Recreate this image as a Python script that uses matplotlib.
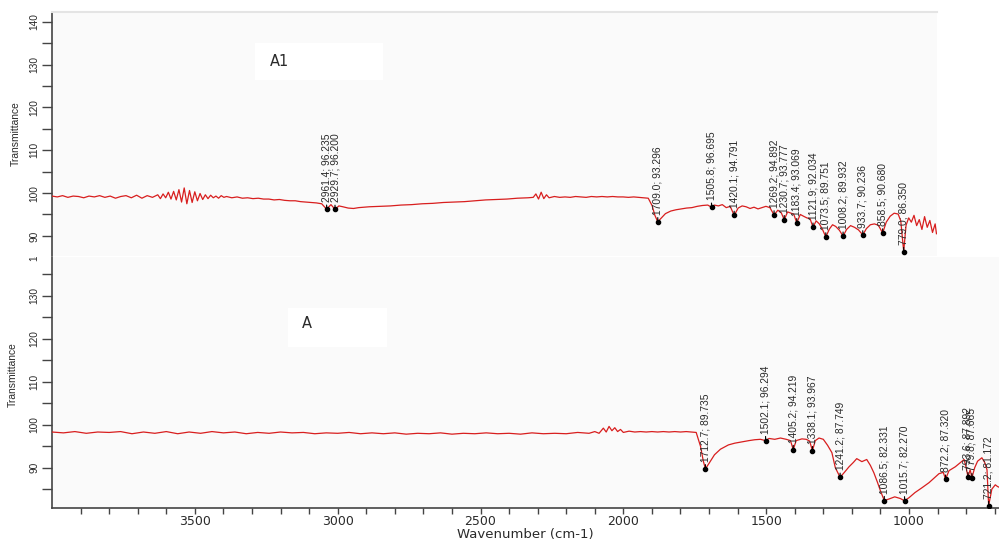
import matplotlib
matplotlib.use("Agg")
import matplotlib.pyplot as plt
from matplotlib.patches import Rectangle
from matplotlib.ticker import MultipleLocator, FixedLocator, FuncFormatter

# ---------------- data: spectrum A1 (top) ----------------
a1_wn = [4000, 3980, 3960, 3940, 3920, 3900, 3880, 3860, 3840, 3820,
         3800, 3780, 3760, 3740, 3720, 3700, 3680, 3660, 3640, 3620,
         3600, 3590, 3580, 3570, 3560, 3550, 3540, 3530, 3520, 3510,
         3500, 3490, 3480, 3470, 3460, 3450, 3440, 3430, 3420, 3410,
         3400, 3390, 3380, 3370, 3360, 3350, 3340, 3320, 3300, 3280,
         3260, 3240, 3220, 3200, 3180, 3160, 3140, 3120, 3100, 3080,
         3060, 3040, 3020, 3000, 2980, 2961.4, 2945, 2929.7, 2915, 2900,
         2880, 2860, 2840, 2820, 2800, 2760, 2720, 2680, 2640, 2600,
         2560, 2520, 2480, 2440, 2400, 2360, 2320, 2280, 2240, 2200,
         2180, 2170, 2160, 2150, 2140, 2130, 2120, 2100, 2080, 2060,
         2040, 2020, 2000, 1980, 1960, 1940, 1920, 1900, 1880, 1860,
         1840, 1820, 1800, 1780, 1760, 1745, 1730, 1720, 1709.0, 1695,
         1680, 1660, 1640, 1620, 1600, 1580, 1560, 1540, 1520, 1505.8,
         1495, 1480, 1465, 1450, 1435, 1420.1, 1405, 1390, 1375, 1360,
         1345, 1330, 1315, 1300, 1285, 1269.2, 1255, 1242, 1230.7, 1218,
         1205, 1195, 1183.4, 1170, 1158, 1145, 1133, 1121.9, 1110, 1098,
         1086, 1073.5, 1060, 1048, 1036, 1022, 1008.2, 995, 980, 965,
         950, 933.7, 920, 905, 890, 875, 858.5, 845, 830, 815,
         800, 790, 779.0, 770, 760, 750, 740, 730, 720, 710,
         700, 690, 680, 670, 660, 655]
a1_tr = [99.3, 99.1, 99.4, 99.0, 99.3, 99.2, 98.9, 99.3, 99.1, 99.4,
         99.0, 99.3, 98.8, 99.2, 99.4, 98.9, 99.5, 98.8, 99.4, 99.0,
         99.6, 98.7, 99.8, 98.9, 100.2, 98.6, 100.4, 98.4, 100.8, 97.9,
         101.2, 97.5, 100.6, 97.8, 100.3, 98.2, 99.9, 98.5, 99.6, 98.7,
         99.5, 98.9, 99.3, 98.8, 99.4, 99.0, 99.2, 98.9, 99.1, 98.8,
         98.9, 98.7, 98.8, 98.6, 98.6, 98.4, 98.5, 98.3, 98.2, 98.2,
         98.0, 97.9, 97.8, 97.7, 97.5, 96.235, 97.3, 96.200, 97.0, 96.8,
         96.5, 96.4, 96.6, 96.7, 96.8, 96.9, 97.0, 97.2, 97.3, 97.5,
         97.6, 97.8, 97.9, 98.0, 98.2, 98.4, 98.5, 98.6, 98.8, 98.9,
         99.0, 99.8, 98.6, 100.2, 98.7, 99.6, 98.9, 99.2, 99.0, 99.1,
         99.0, 99.2, 99.1, 99.0, 99.2, 99.1, 99.2, 99.1, 99.2, 99.1,
         99.1, 99.0, 99.1, 99.0, 98.9, 98.8, 97.0, 94.8, 93.296, 94.2,
         95.2, 95.8, 96.1, 96.3, 96.5, 96.6, 96.9, 97.1, 97.2, 96.695,
         97.2, 97.0, 97.3, 96.6, 96.9, 94.791, 96.5, 97.0, 96.8, 96.4,
         96.7, 96.3, 96.6, 96.9, 96.6, 94.892, 96.0, 95.4, 93.777, 95.6,
         95.3, 95.1, 93.069, 95.0, 94.6, 94.2, 94.0, 92.034, 93.5, 92.8,
         91.5, 89.751, 91.6, 92.6, 92.2, 91.3, 89.932, 91.5, 92.4, 92.0,
         91.4, 90.236, 91.7, 92.6, 92.8, 92.5, 90.680, 93.2, 94.6, 95.3,
         95.1, 93.5, 86.350, 92.5, 94.2, 93.2, 94.8, 92.4, 93.8, 91.5,
         94.5, 92.0, 93.6, 90.8, 92.8, 90.5]

a1_peak_wn = [2961.4, 2929.7, 1709.0, 1505.8, 1420.1, 1269.2, 1230.7,
              1183.4, 1121.9, 1073.5, 1008.2, 933.7, 858.5, 779.0]
a1_peak_tr = [96.235, 96.200, 93.296, 96.695, 94.791, 94.892, 93.777,
              93.069, 92.034, 89.751, 89.932, 90.236, 90.680, 86.350]

# ---------------- data: spectrum A (bottom) ----------------
a_wn = [4000, 3960, 3920, 3880, 3840, 3800, 3760, 3720, 3680, 3640,
        3600, 3560, 3520, 3480, 3440, 3400, 3360, 3320, 3280, 3240,
        3200, 3160, 3120, 3080, 3040, 3000, 2960, 2920, 2880, 2840,
        2800, 2760, 2720, 2680, 2640, 2600, 2560, 2520, 2480, 2440,
        2400, 2360, 2320, 2280, 2240, 2200, 2160, 2120, 2100, 2085,
        2070, 2060, 2050, 2040, 2030, 2020, 2010, 2000, 1980, 1960,
        1940, 1920, 1900, 1880, 1860, 1840, 1820, 1800, 1780, 1760,
        1745, 1730, 1720, 1712.7, 1700, 1681, 1660, 1632, 1610, 1586,
        1560, 1540, 1520, 1502.1, 1490, 1470, 1450, 1430, 1415, 1405.2,
        1395, 1375, 1360, 1348, 1338.1, 1328, 1315, 1300, 1285, 1270,
        1258, 1241.2, 1225, 1210, 1195, 1183, 1165, 1148, 1135, 1123,
        1110, 1100, 1086.5, 1070, 1050, 1030, 1015.7, 1000, 979, 955,
        930, 910, 895, 880, 872.2, 860, 838, 820, 807, 800,
        793.6, 786, 779.8, 770, 760, 745, 735, 727, 721.2, 710,
        698, 690, 680]
a_tr = [98.3, 98.1, 98.4, 98.0, 98.3, 98.2, 98.4, 97.9, 98.3, 98.0,
        98.4, 97.9, 98.3, 98.0, 98.4, 98.1, 98.3, 97.9, 98.2, 98.0,
        98.3, 98.1, 98.2, 97.9, 98.1, 98.0, 98.2, 97.9, 98.1, 97.9,
        98.1, 97.8, 98.0, 97.9, 98.1, 97.8, 98.0, 97.9, 98.1, 97.9,
        98.0, 97.8, 98.1, 97.9, 98.0, 97.9, 98.2, 98.0, 98.4, 98.0,
        99.2, 98.3, 99.6, 98.6, 99.3, 98.4, 98.9, 98.2, 98.5, 98.3,
        98.4, 98.3, 98.4, 98.3, 98.4, 98.3, 98.4, 98.3, 98.4, 98.3,
        98.2, 95.0, 91.5, 89.735, 91.0, 93.0, 94.3, 95.3, 95.7, 96.0,
        96.3, 96.5, 96.6, 96.294, 96.8, 96.6, 96.9, 96.6, 96.3, 94.219,
        96.3, 96.7, 96.6, 96.2, 93.967, 96.3, 96.9, 96.6, 95.2, 93.5,
        90.0, 87.749, 89.0, 90.2, 91.2, 92.1, 91.4, 91.9, 90.5, 88.8,
        86.5, 84.6, 82.331, 82.7, 83.2, 82.8, 82.270, 83.0, 84.2, 85.3,
        86.5, 87.7, 88.6, 88.9, 87.320, 89.3, 90.2, 91.2, 91.9, 90.0,
        87.892, 89.5, 87.665, 90.0, 91.5, 92.3, 91.2, 89.5, 81.172, 85.0,
        86.0, 85.6, 85.3]

a_peak_wn = [1712.7, 1502.1, 1405.2, 1338.1, 1241.2, 1086.5, 1015.7,
             872.2, 793.6, 779.8, 721.2]
a_peak_tr = [89.735, 96.294, 94.219, 93.967, 87.749, 82.331, 82.270,
             87.320, 87.892, 87.665, 81.172]

panel_names = ["A1", "A"]
y_title = "Transmittance"
x_title = "Wavenumber (cm-1)"

# ---------------- figure ----------------
W, H = 999, 540
fig = plt.figure(figsize=(W / 100, H / 100), dpi=100)
fig.patch.set_facecolor("white")


def fx(px):
    return px / W


def fy(py):
    return 1 - py / H


RED = "#d81e1e"
AXC = "#444444"
TXT = "#2a2a2a"
BG = "#fafafa"
ROT_FONT = ["Liberation Sans", "DejaVu Sans"]

ax_b = fig.add_axes([fx(52), fy(508), fx(999) - fx(52), fy(242) - fy(508)], zorder=0)
cover = Rectangle((0, fy(257)), 1, 1 - fy(257), transform=fig.transFigure,
                  facecolor="white", edgecolor="none", zorder=1)
fig.add_artist(cover)
ax_t = fig.add_axes([fx(52), fy(256), fx(937) - fx(52), fy(12) - fy(256)], zorder=2)


def style_y(ax):
    ax.yaxis.set_major_locator(MultipleLocator(10))
    ax.yaxis.set_minor_locator(MultipleLocator(5))
    ax.tick_params(axis="y", which="both", direction="out", length=7, width=1,
                   color=AXC, pad=2)
    ax.tick_params(axis="y", which="major", labelsize=7.3, labelcolor=TXT,
                   labelrotation=90)
    for lab in ax.get_yticklabels():
        lab.set_family(ROT_FONT)
        lab.set_va("center")
    ax.set_ylabel(y_title, fontsize=7.4, color=TXT, family=ROT_FONT)


def annotate_peaks(ax, wn, tr):
    ax.plot(wn, tr, linestyle="none", marker="o", ms=3, color="black", zorder=4)
    for w, t in zip(wn, tr):
        ax.annotate(f"{w:.1f}; {t:.3f}", xy=(w, t), xytext=(0, 5),
                    textcoords="offset points", rotation=90, ha="center",
                    va="bottom", fontsize=7.4, color=TXT, family=ROT_FONT,
                    arrowprops=dict(arrowstyle="-", lw=0.8, color="black",
                                    shrinkA=0, shrinkB=0), zorder=5)


# ----- top panel (A1) -----
ax_t.set_facecolor(BG)
ax_t.plot(a1_wn, a1_tr, color=RED, lw=0.9, zorder=3)
annotate_peaks(ax_t, a1_peak_wn, a1_peak_tr)
ax_t.set_xlim(4000, 653)
ax_t.set_ylim(85.3, 142.3)
for s in ("right", "bottom"):
    ax_t.spines[s].set_visible(False)
ax_t.spines["left"].set_color(AXC)
ax_t.spines["left"].set_linewidth(1.2)
ax_t.spines["top"].set_color("#e4e4e4")
ax_t.spines["top"].set_linewidth(1.5)
ax_t.tick_params(axis="x", which="both", bottom=False, labelbottom=False)
style_y(ax_t)
ax_t.yaxis.set_label_coords(-0.035, 0.5)
ax_t.add_patch(Rectangle((fx(255), fy(80)), fx(383) - fx(255), fy(43) - fy(80),
                         transform=fig.transFigure, facecolor="white",
                         edgecolor="none", zorder=2))
fig.text(fx(270), fy(62), panel_names[0], fontsize=10.5, color=TXT,
         family="DejaVu Sans", va="center", ha="left", zorder=6)

# ----- bottom panel (A) -----
ax_b.set_facecolor(BG)
ax_b.plot(a_wn, a_tr, color=RED, lw=0.9, zorder=3)
annotate_peaks(ax_b, a_peak_wn, a_peak_tr)
ax_b.set_xlim(4000, 685)
ax_b.set_ylim(80.6, 142.56)
for s in ("right", "top"):
    ax_b.spines[s].set_visible(False)
for s in ("left", "bottom"):
    ax_b.spines[s].set_color(AXC)
    ax_b.spines[s].set_linewidth(1.2)
style_y(ax_b)
ax_b.yaxis.set_label_coords(-0.036, 0.5)
ax_b.xaxis.set_major_locator(FixedLocator(list(range(700, 4000, 100))))
ax_b.xaxis.set_major_formatter(
    FuncFormatter(lambda v, p: f"{int(round(v))}" if int(round(v)) % 500 == 0 else ""))
ax_b.tick_params(axis="x", which="both", direction="out", length=4.5, width=1,
                 color=AXC, pad=0.5, labelsize=9, labelcolor=TXT)
ax_b.set_xlabel(x_title, fontsize=9.5, color=TXT, labelpad=0)
ax_b.add_patch(Rectangle((fx(288), fy(347)), fx(387) - fx(288), fy(308) - fy(347),
                         transform=fig.transFigure, facecolor="white",
                         edgecolor="none", zorder=2))
fig.text(fx(302), fy(323), panel_names[1], fontsize=10.5, color=TXT,
         family="DejaVu Sans", va="center", ha="left", zorder=6)

fig.savefig("out.png", dpi=100, facecolor="white")
